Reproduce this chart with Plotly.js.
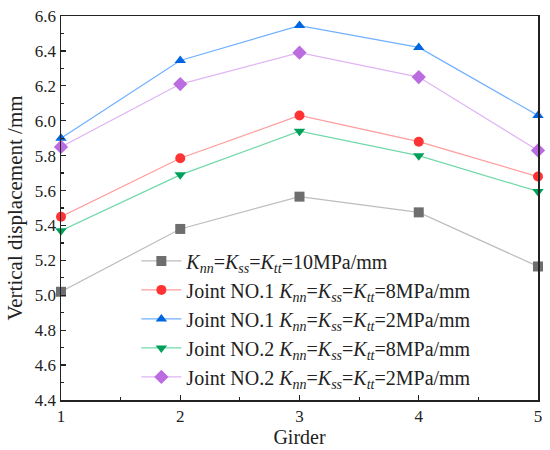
<!DOCTYPE html>
<html><head><meta charset="utf-8">
<script src="https://cdn.plot.ly/plotly-3.0.1.min.js"></script>
<style>html,body{margin:0;padding:0;background:#fff}#c{width:550px;height:450px}</style>
</head><body><div id="c"></div>
<script>
const girders = [1, 2, 3, 4, 5];
const kAll10 = [5.02, 5.38, 5.565, 5.475, 5.165];
const j1k8 = [5.45, 5.785, 6.03, 5.88, 5.68];
const j1k2 = [5.90, 6.345, 6.545, 6.42, 6.03];
const j2k8 = [5.37, 5.69, 5.94, 5.80, 5.595];
const j2k2 = [5.85, 6.21, 6.39, 6.25, 5.83];
const K = '<i>K</i><sub><i>nn</i></sub>=<i>K</i><sub><i>ss</i></sub>=<i>K</i><sub><i>tt</i></sub>';
const names = [
  K + '=10MPa/mm',
  'Joint NO.1 ' + K + '=8MPa/mm',
  'Joint NO.1 ' + K + '=2MPa/mm',
  'Joint NO.2 ' + K + '=8MPa/mm',
  'Joint NO.2 ' + K + '=2MPa/mm'
];
const series = [kAll10, j1k8, j1k2, j2k8, j2k2];
const markerColors = ['#6e6e6e', '#ff3333', '#0066e0', '#00a05a', '#bb6ce0'];
const lineColors = ['#bdbdbd', '#ff9c9c', '#70b0ff', '#70d8a8', '#e0b4f4'];
const symbols = ['square', 'circle', 'triangle-up', 'triangle-down', 'diamond'];
const traces = series.map((ys, i) => ({
  x: girders, y: ys, name: names[i], type: 'scatter', mode: 'lines+markers',
  line: {color: lineColors[i], width: 1.2},
  marker: {color: markerColors[i], symbol: symbols[i], size: symbols[i]==='diamond'?11:10, line: {width: 0}},
  cliponaxis: false
}));
const font = {family: '"Liberation Serif", "Times New Roman", serif', color: '#222'};
const layout = {
  width: 550, height: 450,
  margin: {l: 61, r: 12, t: 16, b: 50},
  paper_bgcolor: '#fff', plot_bgcolor: '#fff',
  font: Object.assign({size: 17}, font),
  showlegend: true,
  legend: {x: 0.158, y: 0.413, xanchor: 'left', yanchor: 'top', bgcolor: 'rgba(0,0,0,0)',
    font: Object.assign({size: 20}, font), tracegroupgap: 0, itemwidth: 40},
  xaxis: {
    range: [1, 5], tickvals: girders, ticks: 'inside', ticklen: 5, tickwidth: 1.2, tickcolor: '#222',
    showline: true, linecolor: '#222', linewidth: 1.5, mirror: true, showgrid: false, zeroline: false,
    minor: {ticks: 'inside', ticklen: 3, dtick: 0.5, tickcolor: '#222', showgrid: false},
    tickfont: Object.assign({size: 17}, font),
    title: {text: 'Girder', font: Object.assign({size: 20}, font), standoff: 3}
  },
  yaxis: {
    range: [4.4, 6.6], dtick: 0.2, tick0: 4.4, tickformat: '.1f', ticks: 'inside', ticklen: 5, tickwidth: 1.2, tickcolor: '#222',
    showline: true, linecolor: '#222', linewidth: 1.5, mirror: true, showgrid: false, zeroline: false,
    minor: {ticks: 'inside', ticklen: 3, dtick: 0.1, tickcolor: '#222', showgrid: false},
    tickfont: Object.assign({size: 17}, font),
    title: {text: 'Vertical displacement /mm', font: Object.assign({size: 21}, font), standoff: 6}
  }
};
Plotly.newPlot('c', traces, layout, {displayModeBar: false, staticPlot: true});
</script></body></html>
